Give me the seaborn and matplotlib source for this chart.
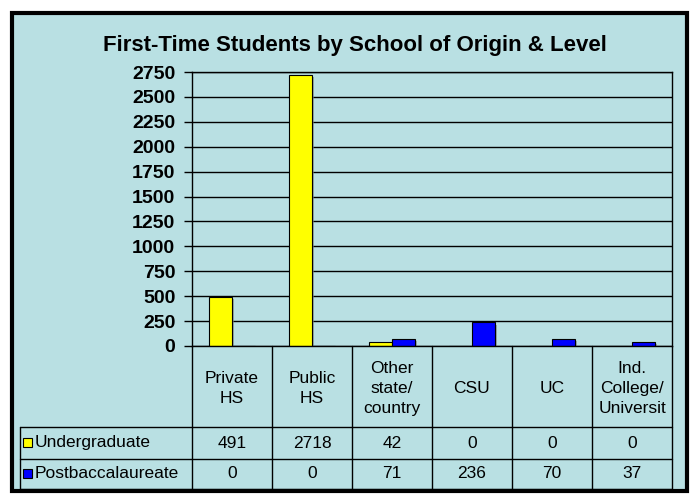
import pandas as pd
import matplotlib.pyplot as plt
import matplotlib.patheffects as pe
from matplotlib.patches import Rectangle
import seaborn as sns

# Data
schools = ['Private HS', 'Public HS', 'Other state/country', 'CSU', 'UC', 'Ind. College/University']
school_labels = ['Private\nHS', 'Public\nHS', 'Other\nstate/\ncountry', 'CSU', 'UC', 'Ind.\nCollege/\nUniversit']
levels = ['Undergraduate', 'Postbaccalaureate']
undergrad = [491, 2718, 42, 0, 0, 0]
postbac = [0, 0, 71, 236, 70, 37]
colors = ['#FFFF00', '#0000FF']

df = pd.DataFrame({
    'school': schools * 2,
    'level': [levels[0]] * 6 + [levels[1]] * 6,
    'count': undergrad + postbac,
})

sns.set_theme(style='white')
plt.rcParams['font.family'] = ['Liberation Sans', 'DejaVu Sans']
bg = '#B9E0E3'

W, H = 690, 497
fig = plt.figure(figsize=(6.9, 4.97), dpi=100)
fig.patch.set_facecolor('white')

# outer frame on a background axes
back = fig.add_axes([0, 0, 1, 1], zorder=-5)
back.set_xlim(0, W)
back.set_ylim(H, 0)
back.axis('off')
back.add_patch(Rectangle((12, 13), 675, 478, facecolor=bg, edgecolor='black', linewidth=3))

back.text(355, 45, 'First-Time Students by School of Origin & Level',
          ha='center', va='center', fontsize=16, fontweight='bold', color='black')

# chart area
x0, x1, ytop, ybot = 192, 672, 72, 346
ax = fig.add_axes([x0 / W, 1 - ybot / H, (x1 - x0) / W, (ybot - ytop) / H])
ax.set_facecolor(bg)
sns.barplot(data=df, x='school', y='count', hue='level', order=schools, hue_order=levels,
            palette=colors, saturation=1, edgecolor='black', linewidth=0.8, width=0.58, gap=0,
            legend=False, ax=ax)
for p in ax.patches:
    p.set_path_effects([pe.SimplePatchShadow(offset=(1.5, -1.5), shadow_rgbFace='gray', alpha=0.6),
                        pe.Normal()])
ax.set_xlim(-0.5, 5.5)
ax.set_ylim(0, 2750)
ax.set_yticks(range(0, 2751, 250))
ax.yaxis.grid(True, color='black', linewidth=1)
ax.set_axisbelow(True)
ax.set_xticks([])
ax.set_xlabel('')
ax.set_ylabel('')
ax.tick_params(axis='y', left=True, length=6, width=1, color='black', pad=6, labelcolor='black')
for lab in ax.get_yticklabels():
    lab.set_fontweight('bold')
    lab.set_fontsize(14)
for s in ax.spines.values():
    s.set_color('black')
    s.set_linewidth(1)

# data table
tab = fig.add_axes([0, 0, 1, 1])
tab.set_xlim(0, W)
tab.set_ylim(H, 0)
tab.axis('off')
col_w = (x1 - x0) / 6
row1, row2, row3 = 427, 459, 489
lk = dict(color='black', linewidth=1)
for i in range(7):
    xv = x0 + i * col_w
    tab.plot([xv, xv], [ybot, row3], **lk)
tab.plot([20, 20], [row1, row3], **lk)
for yv in (row1, row2, row3):
    tab.plot([20, x1], [yv, yv], **lk)

for i, lab in enumerate(school_labels):
    tab.text(x0 + (i + 0.5) * col_w, (ybot + row1) / 2 + 2, lab, ha='center', va='center',
             fontsize=12.5, linespacing=1.4, color='black')

for r, (name, vals, c) in enumerate(zip(levels, [undergrad, postbac], colors)):
    yc = (row1 + row2) / 2 if r == 0 else (row2 + row3) / 2
    tab.add_patch(Rectangle((23, yc - 5), 9, 9, facecolor=c, edgecolor='black', linewidth=0.8))
    tab.text(35, yc, name, ha='left', va='center', fontsize=12.5, color='black')
    for i, v in enumerate(vals):
        tab.text(x0 + (i + 0.5) * col_w, yc, str(v), ha='center', va='center', fontsize=12.5,
                 color='black')

fig.savefig('out.png', dpi=100, facecolor='white')
